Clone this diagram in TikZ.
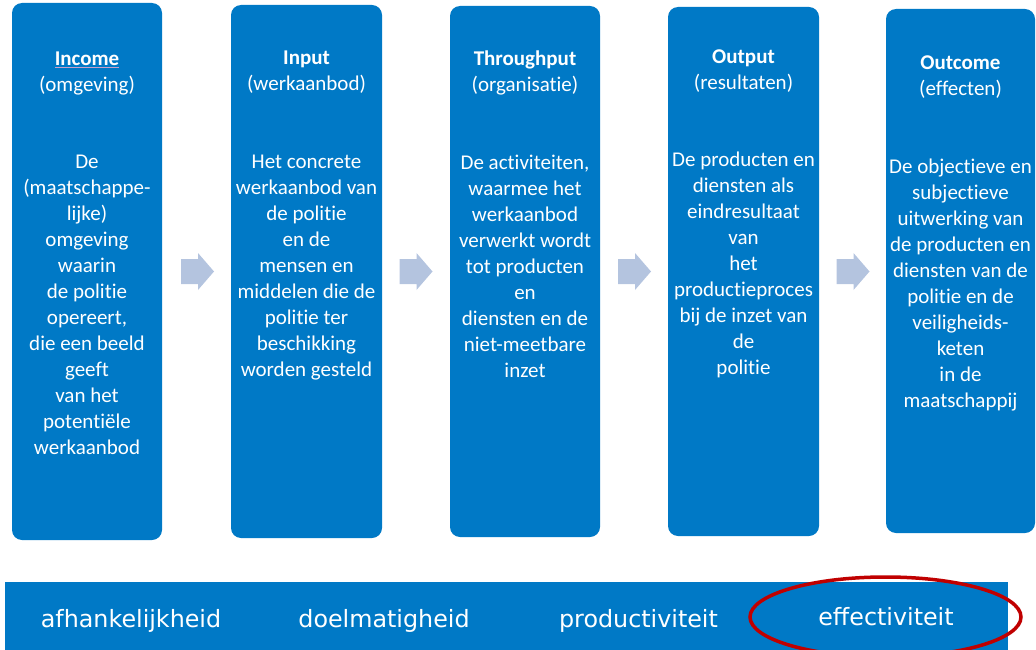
\documentclass[tikz,border=0pt]{standalone}
\usepackage{fontspec}
\setmainfont{Carlito}[Ligatures=NoCommon]
\newfontfamily\barfont{DejaVu Sans}
\usetikzlibrary{shapes.geometric}
\definecolor{boxblue}{HTML}{0079C6}
\definecolor{arrowblue}{HTML}{B4C4DF}
\definecolor{ringred}{HTML}{C00000}
\definecolor{ulc}{HTML}{C8A0C8}
\newlength\myulw
\newcommand\myul[1]{\settowidth\myulw{#1}\rlap{\color{ulc}\rule[-2.5pt]{\myulw}{1pt}}#1}
\tikzset{
  stage/.style={fill=boxblue, rounded corners=10pt, inner sep=0pt, outer sep=0pt, anchor=north west},
  boxtext/.style={text=white, align=center, anchor=north, inner sep=0pt, font=\fontsize{21}{26}\selectfont},
  flow/.style={fill=arrowblue},
  bartext/.style={text=white, anchor=base, inner sep=0pt, font=\barfont\fontsize{23.8}{28}\selectfont},
  ring/.style={draw=ringred, line width=3.5pt, ellipse, inner sep=0pt},
}
\newcommand\blockarrow[1]{%
  \fill[flow] (#1) ++(0,-12.5) -- ++(17,0) -- ++(0,-6) -- ++(16,18.5) -- ++(-16,18.5) -- ++(0,-6) -- ++(-17,0) -- cycle;}
\begin{document}
\begin{tikzpicture}[x=1pt,y=-1pt]
\useasboundingbox (0,0) rectangle (1036,650);
\clip (0,0) rectangle (1036,650);
% stage boxes
\node[stage, minimum width=150pt, minimum height=537pt] (b1) at (12,3) {};
\node[stage, minimum width=151pt, minimum height=533pt] (b2) at (231,5) {};
\node[stage, minimum width=150pt, minimum height=531pt] (b3) at (450,6) {};
\node[stage, minimum width=151pt, minimum height=529pt] (b4) at (668,7) {};
\node[stage, minimum width=149pt, minimum height=524pt] (b5) at (886,9) {};
% titles
\node[boxtext] (t1) at (87,46.8) {\strut\myul{\textbf{Income}}\\(omgeving)};
\node[boxtext] (t2) at (306.5,45.8) {\strut\textbf{Input}\\(werkaanbod)};
\node[boxtext] (t3) at (525,46.8) {\strut\textbf{Throughput}\\(organisatie)};
\node[boxtext] (t4) at (743.5,44.8) {\strut\textbf{Output}\\(resultaten)};
\node[boxtext] (t5) at (960.5,50.8) {\strut\textbf{Outcome}\\(effecten)};
% bodies
\node[boxtext] (d1) at (87,149.8) {\strut De\\(maatschappe-\\lijke)\\omgeving\\waarin\\de politie\\opereert,\\die een beeld\\geeft\\van het\\potentiële\\werkaanbod};
\node[boxtext] (d2) at (306.5,149.8) {\strut Het concrete\\werkaanbod van\\de politie\\en de\\mensen en\\middelen die de\\politie ter\\beschikking\\worden gesteld};
\node[boxtext] (d3) at (525,150.8) {\strut De activiteiten,\\waarmee het\\werkaanbod\\verwerkt wordt\\tot producten\\en\\diensten en de\\niet-meetbare\\inzet};
\node[boxtext] (d4) at (743.5,147.8) {\strut De producten en\\diensten als\\eindresultaat\\van\\het\\productieproces\\bij de inzet van\\de\\politie};
\node[boxtext] (d5) at (960.5,154.8) {\strut De objectieve en\\subjectieve\\uitwerking van\\de producten en\\diensten van de\\politie en de\\veiligheids-\\keten\\in de\\maatschappij};
% flow arrows
\coordinate (a1) at (181,271.5);
\coordinate (a2) at (399.5,271.5);
\coordinate (a3) at (618,271.5);
\coordinate (a4) at (836.5,271.5);
\blockarrow{a1}
\blockarrow{a2}
\blockarrow{a3}
\blockarrow{a4}
% bottom bar
\node[fill=boxblue, inner sep=0pt, outer sep=0pt, anchor=north west, minimum width=1003pt, minimum height=68pt] (bar) at (5,582) {};
\node[bartext] (k1) at (131,627) {afhankelijkheid};
\node[bartext] (k2) at (384,627) {doelmatigheid};
\node[bartext] (k3) at (638.5,627) {productiviteit};
\node[bartext] (k4) at (886,625) {effectiviteit};
\node[ring, minimum width=271pt, minimum height=80pt] (r) at (885.5,617) {};
\end{tikzpicture}
\end{document}
